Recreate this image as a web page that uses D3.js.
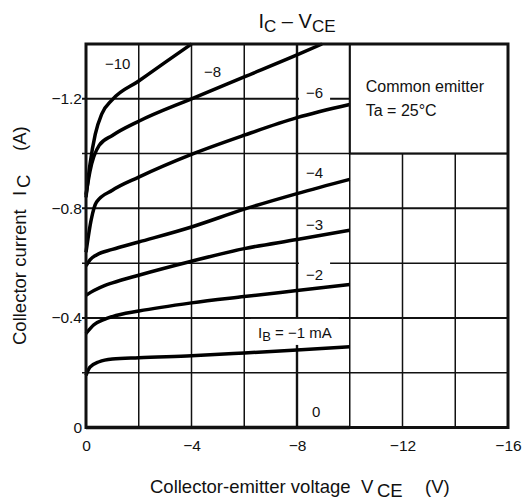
<!doctype html>
<html>
<head>
    <title>IC - VCE</title>
    <script src="https://d3js.org/d3.v7.min.js"></script>
</head>
<style>
    body { margin: 0; background: #fff; }
    text { font-family: Arial, "Liberation Sans", sans-serif; fill: #111; }
</style>
<body>
<script>

// base current labels (mA) and curves: [VCE (V), IC (A)]
var ibLabels = ['0', '\u22121', '\u22122', '\u22123', '\u22124', '\u22126', '\u22128', '\u221210'];

var ib0  = [[0, 0], [-10, 0]];
var ib1  = [[0, -0.19], [-0.15, -0.22], [-0.5, -0.24], [-1, -0.25], [-2, -0.255], [-4, -0.262], [-6, -0.272], [-8, -0.283], [-10, -0.295]];
var ib2  = [[0, -0.343], [-0.3, -0.375], [-0.7, -0.395], [-1, -0.405], [-2, -0.425], [-4, -0.455], [-6, -0.478], [-8, -0.5], [-10, -0.522]];
var ib3  = [[0, -0.483], [-0.3, -0.5], [-0.7, -0.518], [-1, -0.528], [-2, -0.556], [-4, -0.607], [-6, -0.653], [-8, -0.686], [-10, -0.72]];
var ib4  = [[0, -0.59], [-0.15, -0.612], [-0.4, -0.63], [-1, -0.65], [-2, -0.677], [-4, -0.732], [-6, -0.797], [-8, -0.854], [-10, -0.906]];
var ib6  = [[0, -0.64], [-0.2, -0.76], [-0.4, -0.823], [-1, -0.866], [-2, -0.914], [-4, -0.997], [-6, -1.067], [-8, -1.131], [-10, -1.179]];
var ib8  = [[0, -0.85], [-0.15, -0.935], [-0.5, -1.03], [-1, -1.066], [-2, -1.118], [-4, -1.2], [-6, -1.28], [-8, -1.36], [-8.95, -1.4]];
var ib10 = [[0, -0.84], [-0.15, -0.96], [-0.35, -1.07], [-0.6, -1.145], [-1, -1.197], [-2, -1.265], [-3, -1.333], [-4, -1.4]];

var curves = [ib0, ib1, ib2, ib3, ib4, ib6, ib8, ib10];

// label anchor points (text start, baseline) [VCE, IC]
var labelPos = [[-8.57, -0.04], [-6.52, -0.327], [-8.34, -0.539], [-8.34, -0.721], [-8.34, -0.911], [-8.34, -1.203], [-4.47, -1.279], [-0.72, -1.308]];

var xTicks = [0, -4, -8, -12, -16];
var yTicks = [0, -0.4, -0.8, -1.2];
var xGrid = [-2, -4, -6, -8, -10, -12, -14];
var yGrid = [-0.2, -0.4, -0.6, -0.8, -1.0, -1.2];

var width = 528, height = 501;
var svg = d3.select('body').append('svg')
    .attr('width', width)
    .attr('height', height);

var x = d3.scaleLinear().domain([0, -16]).range([86, 508]);
var y = d3.scaleLinear().domain([0, -1.4]).range([427.5, 44]);

function fmt(v) {
    return v === 0 ? '0' : '\u2212' + String(Math.abs(v));
}

// grid lines (the upper right corner is the note box)
svg.append('g').selectAll('line')
    .data(xGrid)
    .enter().append('line')
    .attr('x1', function(d) { return x(d); })
    .attr('x2', function(d) { return x(d); })
    .attr('y1', y(0))
    .attr('y2', function(d) { return d < -10 ? y(-1.0) : y(-1.4); })
    .attr('stroke', '#111')
    .attr('stroke-width', function(d) { return d === -8 ? 2.4 : 1.5; });

svg.append('g').selectAll('line')
    .data(yGrid)
    .enter().append('line')
    .attr('x1', x(0) - 4)
    .attr('x2', function(d) { return d < -1.1 ? x(-10) : x(-16); })
    .attr('y1', function(d) { return y(d); })
    .attr('y2', function(d) { return y(d); })
    .attr('stroke', '#111')
    .attr('stroke-width', function(d) { return Math.round(d * 10) % 4 === 0 ? 2 : 1.5; });

// curve labels: white backing goes under the curves, text on top
var labBg = svg.append('g');
var curveG = svg.append('g');
var labG = svg.append('g');

var lab = labG.selectAll('text')
    .data(ibLabels)
    .enter().append('text')
    .attr('x', function(d, i) { return x(labelPos[i][0]); })
    .attr('y', function(d, i) { return y(labelPos[i][1]); })
    .attr('font-size', 15)
    .each(function(d, i) {
        var t = d3.select(this);
        if (i === 1) {
            t.append('tspan').text('I');
            t.append('tspan').attr('dy', 3).attr('font-size', 13).text('B');
            t.append('tspan').attr('dy', -3).text(' = ' + d + ' mA');
        } else {
            t.text(d);
        }
    });

lab.each(function() {
    var bb = this.getBBox();
    labBg.append('rect')
        .attr('x', bb.x - 7)
        .attr('y', bb.y - 5)
        .attr('width', bb.width + 14)
        .attr('height', bb.height + 6)
        .attr('fill', '#fff');
});

// curves
var line = d3.line()
    .x(function(d) { return x(d[0]); })
    .y(function(d) { return y(d[1]); })
    .curve(d3.curveMonotoneX);

curveG.selectAll('path')
    .data(curves)
    .enter().append('path')
    .attr('d', line)
    .attr('fill', 'none')
    .attr('stroke', '#000')
    .attr('stroke-width', 3.5);

// frame
svg.append('rect')
    .attr('x', x(0))
    .attr('y', y(-1.4))
    .attr('width', x(-16) - x(0))
    .attr('height', y(0) - y(-1.4))
    .attr('fill', 'none')
    .attr('stroke', '#111')
    .attr('stroke-width', 3);

// note box
svg.append('rect')
    .attr('x', x(-10))
    .attr('y', y(-1.4))
    .attr('width', x(-16) - x(-10))
    .attr('height', y(-1.0) - y(-1.4))
    .attr('fill', 'none')
    .attr('stroke', '#111')
    .attr('stroke-width', 2);

svg.append('text')
    .attr('x', x(-10) + 16)
    .attr('y', 92)
    .attr('font-size', 16)
    .text('Common emitter');

svg.append('text')
    .attr('x', x(-10) + 16)
    .attr('y', 116)
    .attr('font-size', 16)
    .text('Ta = 25\u00b0C');

// axes
var xAxis = d3.axisBottom(x)
    .tickValues(xTicks)
    .tickFormat(fmt)
    .tickSize(0)
    .tickPadding(12);

var yAxis = d3.axisLeft(y)
    .tickValues(yTicks)
    .tickFormat(fmt)
    .tickSize(0)
    .tickPadding(4);

var gx = svg.append('g')
    .attr('transform', 'translate(0,' + y(0) + ')')
    .call(xAxis);

var gy = svg.append('g')
    .attr('transform', 'translate(' + x(0) + ',0)')
    .call(yAxis);

[gx, gy].forEach(function(g) {
    g.select('.domain').remove();
    g.selectAll('text')
        .attr('font-size', 15.5)
        .attr('fill', '#111')
        .style('font-family', 'Arial, "Liberation Sans", sans-serif');
});

// title
var title = svg.append('text')
    .attr('x', 297)
    .attr('y', 28)
    .attr('text-anchor', 'middle')
    .attr('font-size', 20);
title.append('tspan').text('I');
title.append('tspan').attr('dy', 4).attr('font-size', 17).text('C');
title.append('tspan').attr('dy', -4).text(' \u2013 V');
title.append('tspan').attr('dy', 4).attr('font-size', 17).text('CE');

// x label
var xl = svg.append('text')
    .attr('y', 493)
    .attr('font-size', 18.5);
xl.append('tspan').attr('x', 150).text('Collector-emitter voltage');
xl.append('tspan').attr('x', 361).text('V');
xl.append('tspan').attr('x', 377).attr('dy', 4).text('CE');
xl.append('tspan').attr('x', 425).attr('dy', -4).text('(V)');

// y label (rotated, positions run along the axis)
var yl = svg.append('text')
    .attr('transform', 'translate(25.5,0) rotate(-90)')
    .attr('font-size', 18.5);
yl.append('tspan').attr('x', -345).text('Collector current');
yl.append('tspan').attr('x', -196).text('I');
yl.append('tspan').attr('x', -188).attr('dy', 4).text('C');
yl.append('tspan').attr('x', -151).attr('dy', -4).text('(A)');

</script>
</body>
</html>
